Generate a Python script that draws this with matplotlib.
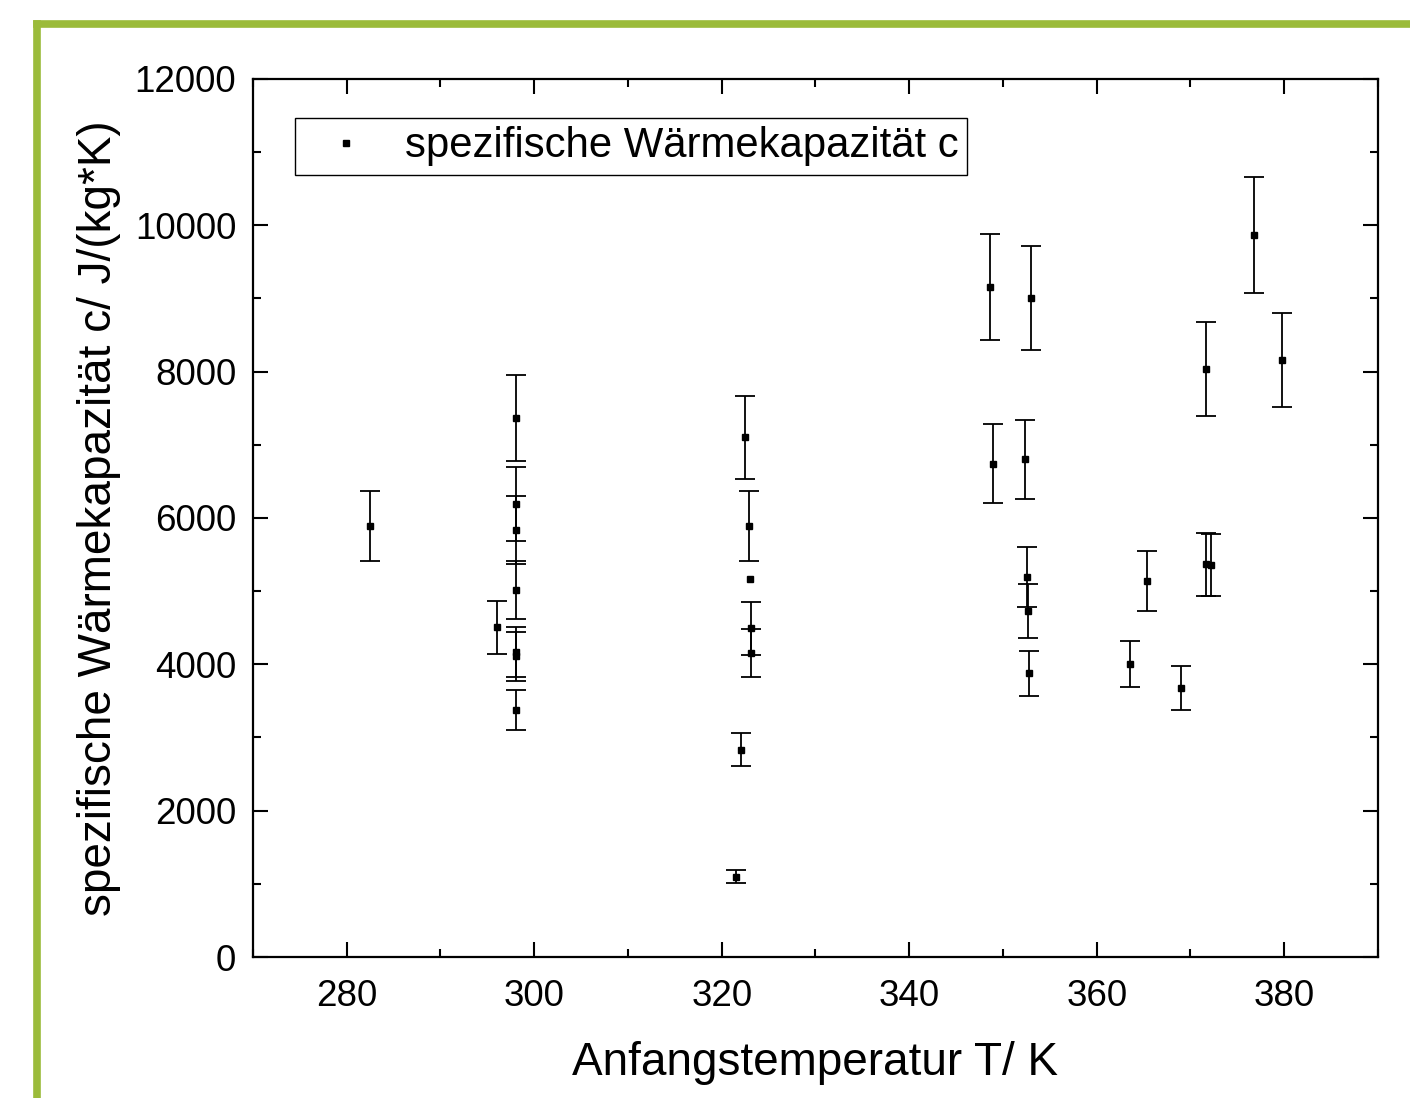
import numpy as np
import matplotlib
matplotlib.use("Agg")
import matplotlib.pyplot as plt
from matplotlib.lines import Line2D
from matplotlib.ticker import MultipleLocator

plt.rcParams['font.family'] = ['Liberation Sans', 'DejaVu Sans']

# data (T in K, c in J/(kg*K), error in J/(kg*K))
temp = [282.5, 296.0,
        298.1, 298.1, 298.1, 298.1, 298.1, 298.1, 298.1,
        321.5, 322.1, 322.5, 322.9, 323.0, 323.1, 323.1,
        348.6, 348.9, 352.4, 352.6, 352.7, 352.8, 353.0,
        363.5, 365.4, 369.0, 371.7, 371.7, 372.2, 376.8, 379.8]
c_val = [5890, 4505,
         7362, 6191, 5836, 5016, 4170, 4110, 3376,
         1098, 2830, 7102, 5890, 5162, 4491, 4150,
         9157, 6738, 6801, 5198, 4733, 3877, 9006,
         4004, 5139, 3676, 8036, 5367, 5357, 9867, 8159]
c_err = [480, 360,
         590, 500, 465, 400, 340, 335, 274,
         85, 225, 570, 472, np.nan, 360, 330,
         730, 540, 540, 410, 370, 310, 710,
         315, 415, 295, 640, 430, 430, 790, 640]

fig = plt.figure(figsize=(14.1, 10.98), dpi=100)
ax = fig.add_axes([0.1794, 0.1284, 0.7979, 0.7997])

# error bars + square markers
ax.errorbar(temp, c_val, yerr=c_err, fmt='none', ecolor='black',
            elinewidth=1.3, capsize=7.5, capthick=1.3)
ax.plot(temp, c_val, 's', color='black', markersize=4.8, linestyle='none')

ax.set_xlim(270, 390)
ax.set_ylim(0, 12000)
ax.xaxis.set_major_locator(MultipleLocator(20))
ax.xaxis.set_minor_locator(MultipleLocator(10))
ax.yaxis.set_major_locator(MultipleLocator(2000))
ax.yaxis.set_minor_locator(MultipleLocator(1000))
ax.tick_params(which='both', direction='in', top=True, right=True,
               width=1.5, labelsize=26.5)
ax.tick_params(axis='x', pad=16)
ax.tick_params(axis='y', pad=12)
ax.tick_params(which='major', length=11)
ax.tick_params(which='minor', length=6)
for s in ax.spines.values():
    s.set_linewidth(1.6)

ax.set_xlabel('Anfangstemperatur T/ K', fontsize=33, labelpad=19)
ax.set_ylabel('spezifische Wärmekapazität c/ J/(kg*K)', fontsize=33, labelpad=10)

# legend shows just the marker, like Origin
handle = Line2D([], [], marker='s', color='black', markersize=4.8, linestyle='none')
leg = ax.legend([handle], ['spezifische Wärmekapazität c'], loc='upper left',
                bbox_to_anchor=(0.0373, 0.9556), borderaxespad=0,
                fontsize=30.2, fancybox=False, framealpha=1, edgecolor='black',
                handlelength=2.05, handletextpad=0.38, borderpad=0.2)
leg.get_frame().set_linewidth(1.0)

# green frame at top and left
green = '#9bbb3a'
fig.add_artist(Line2D([36.5 / 1410, 1.05], [1 - 23.5 / 1098, 1 - 23.5 / 1098],
                      transform=fig.transFigure, color=green, linewidth=5.5,
                      solid_capstyle='projecting'))
fig.add_artist(Line2D([36.5 / 1410, 36.5 / 1410], [1 - 23.5 / 1098, -0.05],
                      transform=fig.transFigure, color=green, linewidth=5.5,
                      solid_capstyle='projecting'))

fig.savefig('out.png', dpi=100)
